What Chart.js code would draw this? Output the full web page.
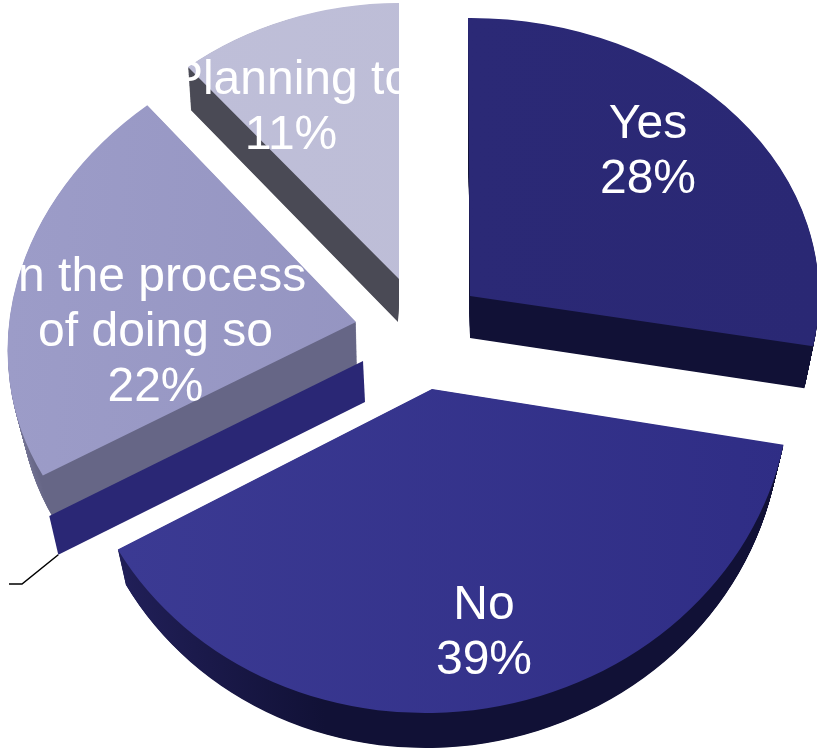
<!DOCTYPE html>
<html>
<head>
<meta charset="utf-8">
<style>
  html, body { margin: 0; padding: 0; background: #fff; }
  canvas { display: block; }
</style>
<script src="https://cdn.jsdelivr.net/npm/chart.js@4"></script>
</head>
<body>
<canvas id="chart" width="817" height="750"></canvas>
<script>
// data
const categories = ['Yes', 'No', 'Other', 'In the process of doing so', 'Planning to'];
const values = [28, 39, 0, 22, 11];
const labelLines = [['Yes'], ['No'], [], ['In the process', 'of doing so'], ['Planning to']];

// where each label is centred, px (first line baseline)
const labelX = [648, 484, 0, 155.5, 291];
const labelY = [138, 619, 0, 291, 94];

// colours
const topLeft = ['#2c2a78', '#3c3b94', '#2a2775', '#9c9cc8', '#bfbfd9'];
const topRight = ['#2a2874', '#2f2d85', '#2a2775', '#8e8ebb', '#bcbcd5'];
const sideLeft = ['#111136', '#24225f', '#2a2775', '#7c7c9c', '#4a4a55'];
const sideRight = ['#111136', '#111136', '#2a2775', '#666686', '#4a4a55'];
const sideFade = [1, 1, 1, 0.15, 1];

// exploded 3D look: each slice has a projection for its top and for its bottom face
// x,y = apex, a,b,c,d = how the pie's unit circle is stretched
const topFace = [
  { x: 470, y: 296, a: 349, b: -2, c: 2, d: 278 },
  { x: 432, y: 389, a: 358, b: -5, c: -1, d: 324 },
  { x: 363, y: 361, a: 358, b: 0, c: 0, d: 322 },
  { x: 356, y: 322, a: 348, b: -14, c: -17, d: 293 },
  { x: 399, y: 279, a: 331, b: -1, c: 0, d: 276 }
];
const bottomFace = [
  { x: 470, y: 338, a: 340, b: -2, c: 2, d: 278 },
  { x: 432, y: 424, a: 349, b: -5, c: -1, d: 324 },
  { x: 365, y: 402, a: 350, b: 0, c: 0, d: 317 },
  { x: 357, y: 365, a: 337, b: -14, c: -17, d: 293 },
  { x: 398, y: 322, a: 325, b: -1, c: 0, d: 276 }
];
const drawOrder = [4, 3, 2, 0, 1];
const depthSteps = 60;

function lerp(p, q, t) {
  return p + (q - p) * t;
}

function mixFace(i, t) {
  const out = {};
  for (const k of ['x', 'y', 'a', 'b', 'c', 'd']) {
    out[k] = lerp(topFace[i][k], bottomFace[i][k], t);
  }
  return out;
}

function drawArc(ctx, arc, face, fill) {
  const R = arc.outerRadius;
  ctx.save();
  ctx.transform(face.a / R, face.b / R, face.c / R, face.d / R,
    face.x - (face.a * arc.x + face.c * arc.y) / R,
    face.y - (face.b * arc.x + face.d * arc.y) / R);
  const shim = Object.create(arc);
  shim.options = Object.assign({}, arc.options, { backgroundColor: fill, borderWidth: 0 });
  arc.draw.call(shim, ctx);
  ctx.restore();
}

// zero value slice: only its cut face shows
function drawZeroSlice(ctx, arc, i) {
  const ang = arc.startAngle;
  const ux = Math.cos(ang), uy = Math.sin(ang);
  const t = topFace[i], b = bottomFace[i];
  ctx.beginPath();
  ctx.moveTo(t.x, t.y);
  ctx.lineTo(t.x + t.a * ux + t.c * uy, t.y + t.b * ux + t.d * uy);
  const ex = b.x + b.a * ux + b.c * uy, ey = b.y + b.b * ux + b.d * uy;
  ctx.lineTo(ex, ey);
  ctx.lineTo(b.x, b.y);
  ctx.closePath();
  ctx.fillStyle = sideLeft[i];
  ctx.fill();
  // leader line of its label
  ctx.beginPath();
  ctx.moveTo(ex, ey);
  ctx.lineTo(22, 584);
  ctx.lineTo(9, 584);
  ctx.strokeStyle = '#000';
  ctx.lineWidth = 1.5;
  ctx.stroke();
}

const pie3d = {
  id: 'pie3d',
  beforeDatasetDraw() {
    return false;
  },
  afterDatasetsDraw(chart) {
    const ctx = chart.ctx;
    const arcs = chart.getDatasetMeta(0).data;
    for (const i of drawOrder) {
      const arc = arcs[i];
      if (values[i] === 0) {
        drawZeroSlice(ctx, arc, i);
        continue;
      }
      const R = arc.outerRadius;
      const side = ctx.createLinearGradient(arc.x - R, 0, arc.x - R * 0.3, 0);
      side.addColorStop(0, sideLeft[i]);
      side.addColorStop(sideFade[i], sideRight[i]);
      for (let s = depthSteps; s > 0; s--) {
        drawArc(ctx, arc, mixFace(i, s / depthSteps), side);
      }
      const top = ctx.createLinearGradient(arc.x - R, 0, arc.x + R, 0);
      top.addColorStop(0, topLeft[i]);
      top.addColorStop(1, topRight[i]);
      drawArc(ctx, arc, topFace[i], top);
    }
    // white labels, they run off the slices onto the white page
    ctx.fillStyle = '#fff';
    ctx.font = '48px "Liberation Sans", Arial, sans-serif';
    ctx.textAlign = 'center';
    ctx.textBaseline = 'alphabetic';
    categories.forEach((name, i) => {
      if (!labelLines[i].length) return;
      const lines = labelLines[i].concat(values[i] + '%');
      lines.forEach((line, n) => ctx.fillText(line, labelX[i], labelY[i] + n * 55));
    });
  }
};

new Chart(document.getElementById('chart'), {
  type: 'pie',
  data: {
    labels: categories,
    datasets: [{ data: values, backgroundColor: topLeft, borderWidth: 0 }]
  },
  options: {
    responsive: false,
    animation: false,
    plugins: { legend: { display: false }, tooltip: { enabled: false } }
  },
  plugins: [pie3d]
});
</script>
</body>
</html>
